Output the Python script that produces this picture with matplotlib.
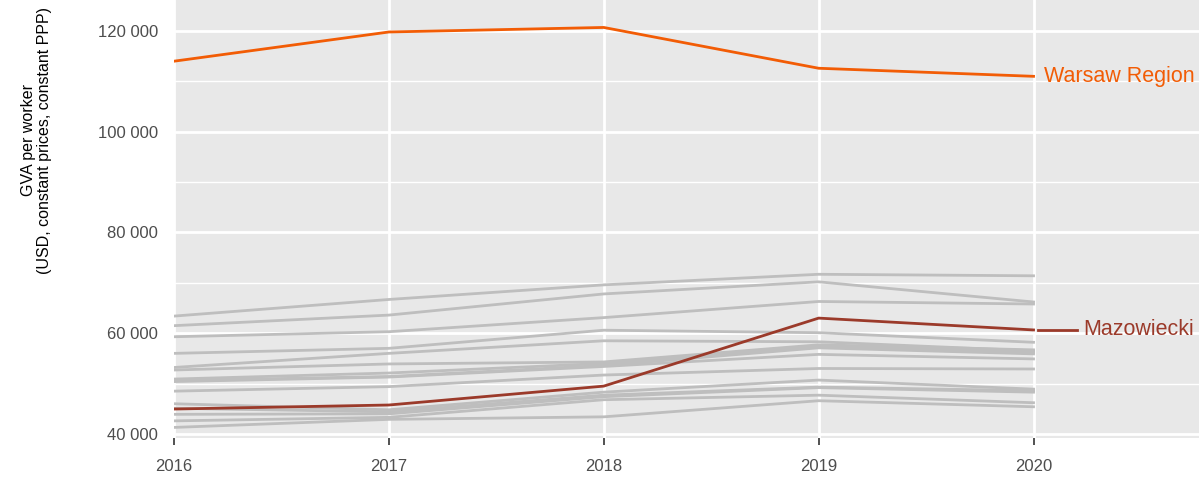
import matplotlib
matplotlib.use("Agg")
import matplotlib.pyplot as plt
from matplotlib.ticker import FuncFormatter, MultipleLocator

plt.rcParams['font.family'] = ['Liberation Sans', 'DejaVu Sans']

years = [2016, 2017, 2018, 2019, 2020]

warsaw = [114000, 119800, 120700, 112600, 111000]
mazowiecki = [44950, 45750, 49500, 63000, 60650]

# other Polish regions (grey background lines)
others = [
    [63400, 66700, 69600, 71700, 71400],
    [61500, 63600, 67800, 70200, 66200],
    [59300, 60300, 63100, 66300, 65800],
    [56000, 57000, 60600, 60100, 58200],
    [53200, 56000, 58500, 58300, 56500],
    [52700, 53900, 54300, 57700, 56700],
    [50900, 52100, 54000, 57400, 56200],
    [50600, 51400, 53600, 57100, 55900],
    [50400, 51300, 53400, 55800, 54900],
    [48500, 49400, 51700, 53000, 52900],
    [46000, 44800, 48300, 50700, 48900],
    [45100, 44400, 47700, 49300, 48600],
    [43900, 44000, 47400, 49200, 48300],
    [42600, 43300, 46800, 47700, 46200],
    [41300, 42900, 43400, 46600, 45400],
]

y_ticks = [40000, 60000, 80000, 100000, 120000]

orange = '#F25C05'
brown = '#9B3A2A'

fig = plt.figure(figsize=(11.99, 4.8), dpi=100)
ax = fig.add_axes([174 / 1199, 42 / 480, 1 - 174 / 1199, 438 / 480])
ax.set_facecolor('#E8E8E8')

for s in others:
    ax.plot(years, s, color='#BEBEBE', lw=2, zorder=2)
ax.plot(years, mazowiecki, color=brown, lw=2, zorder=3)
ax.plot(years, warsaw, color=orange, lw=2, zorder=3)

# labels at line ends
ax.text(years[-1] + 0.05, warsaw[-1], 'Warsaw Region', color=orange,
        fontsize=15.5, va='center', ha='left')
ax.plot([years[-1] + 0.02, years[-1] + 0.2], [mazowiecki[-1]] * 2,
        color=brown, lw=2, zorder=3)
ax.text(years[-1] + 0.23, mazowiecki[-1], 'Mazowiecki', color=brown,
        fontsize=15.5, va='center', ha='left')

ax.set_xlim(2016, 2020.77)
ax.set_ylim(39200, 126150)
ax.set_xticks(years)
ax.set_yticks(y_ticks)
ax.yaxis.set_minor_locator(MultipleLocator(10000))
ax.yaxis.set_major_formatter(FuncFormatter(lambda v, p: f'{int(v):,}'.replace(',', ' ')))

ax.grid(which='major', color='white', lw=2, zorder=1)
ax.grid(which='minor', axis='y', color='white', lw=1, zorder=1)
ax.set_axisbelow(True)

for sp in ax.spines.values():
    sp.set_visible(False)
ax.tick_params(axis='x', length=5, width=1.2, color='#333333', labelsize=12,
               labelcolor='#4D4D4D', pad=10)
ax.tick_params(axis='y', length=0, labelsize=12, labelcolor='#4D4D4D', pad=11.5)
ax.tick_params(which='minor', length=0)

ax.set_ylabel('GVA per worker\n(USD, constant prices, constant PPP)',
              fontsize=11.5, color='black', linespacing=1.1)
ax.yaxis.set_label_coords(-0.119, 0.68)

fig.savefig('out.png', dpi=100)
